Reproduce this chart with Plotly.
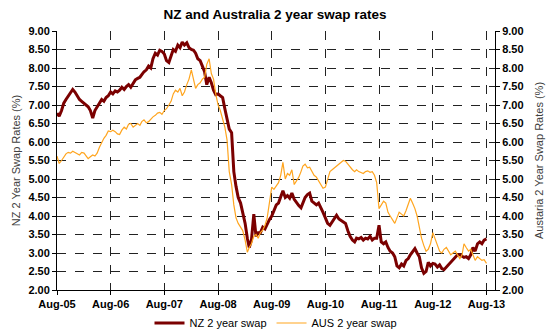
import plotly.graph_objects as go

# Semi-monthly observation dates, Aug-2005 .. Aug-2013 (1st and 16th of each month)
months = [f"{y}-{m:02d}" for y in range(2005, 2014) for m in range(1, 13)
          if (y, m) >= (2005, 8) and (y, m) <= (2013, 8)]
dates = []
for mo in months:
    dates.append(mo + "-01")
    dates.append(mo + "-16")
dates = dates[:-1]  # end at 2013-08-01

nz_swap = [
    6.78, 6.70, 6.85, 7.05, 7.15, 7.25, 7.35, 7.42, 7.35, 7.25, 7.15, 7.10,
    7.05, 7.00, 6.95, 6.85, 6.65, 6.85, 6.95, 7.05, 7.15, 7.10, 7.20, 7.25,
    7.35, 7.30, 7.38, 7.35, 7.40, 7.48, 7.42, 7.50, 7.55, 7.48, 7.60, 7.68,
    7.72, 7.75, 7.82, 7.90, 7.95, 8.05, 8.00, 8.25, 8.40, 8.35, 8.48, 8.45,
    8.38, 8.20, 8.15, 8.35, 8.50, 8.45, 8.62, 8.55, 8.70, 8.62, 8.68, 8.55,
    8.50, 8.48, 8.40, 8.25, 8.20, 8.05, 7.90, 7.55, 7.75, 7.60, 7.40, 7.28,
    7.30, 7.25, 7.20, 6.90, 6.65, 6.35, 6.25, 5.20, 4.80, 4.50, 4.35, 4.10,
    3.80, 3.40, 3.15, 3.35, 4.05, 3.45, 3.55, 3.55, 3.70, 3.65, 3.80, 3.90,
    4.00, 4.15, 4.30, 4.35, 4.55, 4.68, 4.50, 4.55, 4.48, 4.62, 4.45, 4.35,
    4.28, 4.22, 4.35, 4.50, 4.58, 4.62, 4.40, 4.35, 4.30, 4.35, 4.20, 4.10,
    3.95, 3.80, 3.75, 3.85, 3.95, 4.02, 3.92, 3.88, 3.85, 3.80, 3.60, 3.45,
    3.35, 3.30, 3.40, 3.38, 3.42, 3.35, 3.40, 3.38, 3.45, 3.35, 3.40, 3.40,
    3.75, 3.30, 3.25, 3.30, 3.15, 3.05, 3.00, 2.90, 2.65, 2.60, 2.70, 2.65,
    2.80, 2.85, 2.95, 3.05, 3.12, 3.00, 2.90, 2.60, 2.45, 2.50, 2.75, 2.65,
    2.72, 2.70, 2.62, 2.68, 2.58, 2.55, 2.62, 2.68, 2.75, 2.80, 2.88, 2.95,
    2.95, 2.90, 2.88, 2.90, 2.85, 2.95, 3.15, 3.05, 3.25, 3.30, 3.25, 3.35,
    3.38,
]

aus_swap = [
    5.62, 5.42, 5.50, 5.60, 5.68, 5.72, 5.70, 5.75, 5.72, 5.68, 5.65, 5.72,
    5.70, 5.62, 5.55, 5.60, 5.65, 5.62, 5.70, 5.85, 6.00, 6.10, 6.18, 6.30,
    6.28, 6.32, 6.28, 6.22, 6.20, 6.32, 6.40, 6.35, 6.48, 6.50, 6.40, 6.45,
    6.50, 6.45, 6.55, 6.60, 6.52, 6.55, 6.62, 6.68, 6.72, 6.78, 6.80, 6.75,
    6.85, 6.90, 7.00, 7.10, 7.30, 7.40, 7.35, 7.45, 7.25, 7.35, 7.55, 7.70,
    7.95, 7.65, 7.45, 7.55, 7.60, 7.70, 7.75, 8.10, 8.25, 7.85, 7.70, 7.30,
    7.00, 6.85, 6.60, 6.40, 6.05, 5.20, 4.85, 4.30, 3.95, 3.80, 3.70, 3.60,
    3.35, 3.02, 3.15, 3.25, 3.45, 3.50, 3.40, 3.55, 3.62, 3.75, 3.95, 4.30,
    4.78, 4.72, 4.80, 4.90, 5.10, 5.45, 5.00, 5.15, 5.10, 5.25, 4.85, 4.95,
    5.05, 5.20, 5.35, 5.40, 5.30, 5.32, 5.20, 5.10, 5.05, 4.95, 4.85, 4.75,
    4.78, 5.00, 5.20, 5.25, 5.30, 5.35, 5.40, 5.45, 5.50, 5.48, 5.40, 5.30,
    5.25, 5.20, 5.25, 5.20, 5.18, 5.15, 5.20, 5.22, 5.18, 5.20, 5.10, 4.90,
    4.20, 4.30, 4.40, 4.35, 4.10, 4.00, 3.90, 3.80, 3.95, 4.10, 4.05, 4.00,
    4.15, 4.30, 4.48, 4.35, 4.20, 4.00, 3.70, 3.40, 3.20, 3.05, 3.10, 3.25,
    3.55, 3.40, 3.20, 3.05, 3.00, 3.10, 3.15, 3.05, 2.95, 3.00, 3.05, 2.95,
    2.85, 2.95, 3.25, 3.15, 3.05, 3.10, 2.95, 2.80, 2.90, 2.85, 2.80, 2.82,
    2.72,
]

title_text = "NZ and Australia 2 year swap rates"
left_title = "NZ 2 Year Swap Rates (%)"
right_title = "Austaria 2 Year Swap Rates (%)"
y_ticks = [2.0, 2.5, 3.0, 3.5, 4.0, 4.5, 5.0, 5.5, 6.0, 6.5, 7.0, 7.5, 8.0, 8.5, 9.0]

FONT = "Arial, Liberation Sans, sans-serif"

fig = go.Figure()
fig.add_trace(go.Scatter(x=dates, y=nz_swap, mode="lines", name="NZ 2 year swap",
                         line=dict(color="#7B0000", width=3), yaxis="y"))
fig.add_trace(go.Scatter(x=dates, y=aus_swap, mode="lines", name="AUS 2 year swap",
                         line=dict(color="#FFA51F", width=1.2), yaxis="y2"))

fig.update_layout(
    width=550, height=333,
    margin=dict(l=57, r=55, t=31, b=43, autoexpand=False),
    paper_bgcolor="white", plot_bgcolor="white",
    font=dict(family=FONT, color="black"),
    title=dict(text="<b>" + title_text + "</b>", x=0.5, xanchor="center",
               y=1 - 14 / 333, yanchor="middle", font=dict(size=13.5, color="black")),
    showlegend=True,
    legend=dict(orientation="h", x=0.5, xanchor="center", y=-(323 - 290) / 259,
                yanchor="middle",
                font=dict(size=11, color="black"), itemwidth=30, tracegroupgap=0,
                bgcolor="rgba(0,0,0,0)"),
    xaxis=dict(type="date", range=["2005-08-01", "2013-09-28"],
               tick0="2005-08-01", dtick="M12", tickformat="%b-%y",
               showgrid=True, gridcolor="#222", griddash="dash", gridwidth=1,
               showline=True, linecolor="black", linewidth=1,
               ticks="outside", ticklen=4, tickcolor="black",
               tickfont=dict(size=11, family=FONT, color="black", weight="bold"),
               zeroline=False),
    yaxis=dict(range=[2, 9], tickvals=y_ticks, tickformat=".2f",
               showgrid=True, gridcolor="#222", griddash="dash", gridwidth=1,
               showline=True, linecolor="black", linewidth=1,
               ticks="outside", ticklen=4, tickcolor="black",
               tickfont=dict(size=11, family=FONT, color="black", weight="bold"),
               title=dict(text=left_title, font=dict(size=11, color="#404040"), standoff=5),
               zeroline=False),
    yaxis2=dict(range=[2, 9], tickvals=y_ticks, tickformat=".2f",
                overlaying="y", side="right", showgrid=False,
                showline=True, linecolor="black", linewidth=1,
                ticks="outside", ticklen=4, tickcolor="black",
                tickfont=dict(size=11, family=FONT, color="black", weight="bold"),
                title=dict(text=right_title, font=dict(size=11, color="#404040"), standoff=12),
                zeroline=False),
)

fig.write_html("out.html")
